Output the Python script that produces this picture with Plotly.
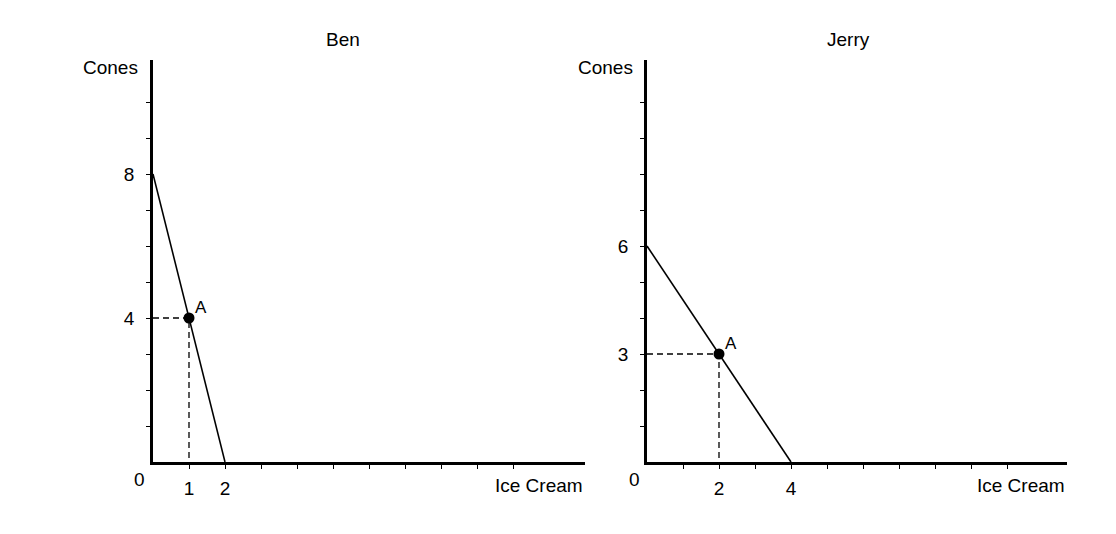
import plotly.graph_objects as go

# Data
ben_ppf_x = [0, 2]
ben_ppf_y = [8, 0]
ben_point = (1, 4)
ben_xticks = [1, 2]
ben_yticks = [4, 8]

jerry_ppf_x = [0, 4]
jerry_ppf_y = [6, 0]
jerry_point = (2, 3)
jerry_xticks = [2, 4]
jerry_yticks = [3, 6]

tick_positions = list(range(1, 11))
titles = ["Ben", "Jerry"]
x_label = "Ice Cream"
y_label = "Cones"
point_label = "A"

FONT = "Liberation Sans, Arial, sans-serif"
FS = 19
W, H = 1116, 534

fig = go.Figure()

panels = [
    dict(xa="x", ya="y", ppfx=ben_ppf_x, ppfy=ben_ppf_y, pt=ben_point,
         xt=ben_xticks, yt=ben_yticks, dom=[153 / W, 585 / W], xmax=12.0),
    dict(xa="x2", ya="y2", ppfx=jerry_ppf_x, ppfy=jerry_ppf_y, pt=jerry_point,
         xt=jerry_xticks, yt=jerry_yticks, dom=[647 / W, 1067 / W], xmax=420 / 36),
]

ydom = [1 - 462 / H, 1 - 60 / H]
ymax = 402 / 36

for i, p in enumerate(panels):
    px, py = p["pt"]
    # dashed guides
    fig.add_trace(go.Scatter(x=[0, px, px], y=[py, py, 0], mode="lines",
                             line=dict(color="black", width=1.3, dash="6px,4px"),
                             xaxis=p["xa"], yaxis=p["ya"], showlegend=False,
                             hoverinfo="skip"))
    # PPF line
    fig.add_trace(go.Scatter(x=p["ppfx"], y=p["ppfy"], mode="lines",
                             line=dict(color="black", width=1.6),
                             xaxis=p["xa"], yaxis=p["ya"], showlegend=False))
    # point A
    fig.add_trace(go.Scatter(x=[px], y=[py], mode="markers",
                             marker=dict(color="black", size=11),
                             xaxis=p["xa"], yaxis=p["ya"], showlegend=False,
                             cliponaxis=False))
    fig.add_annotation(x=px, y=py, xref=p["xa"], yref=p["ya"], text=point_label,
                       showarrow=False, xshift=12, yshift=11,
                       font=dict(family=FONT, size=FS - 2, color="black"))

    xtext = [str(v) if v in p["xt"] else "" for v in tick_positions]
    ytext = [str(v) if v in p["yt"] else "" for v in tick_positions]
    suffix = "" if i == 0 else "2"
    fig.update_layout(**{
        "xaxis" + suffix: dict(domain=p["dom"], range=[0, p["xmax"]],
                               anchor=p["ya"], showgrid=False, zeroline=False,
                               showline=True, linecolor="black", linewidth=2.5,
                               ticks="outside", ticklen=4, tickwidth=1, tickcolor="black",
                               tickvals=tick_positions, ticktext=xtext,
                               ticklabelstandoff=3,
                               tickfont=dict(family=FONT, size=FS, color="black"),
                               fixedrange=True),
        "yaxis" + suffix: dict(domain=ydom, range=[0, ymax],
                               anchor=p["xa"], showgrid=False, zeroline=False,
                               showline=True, linecolor="black", linewidth=2.5,
                               ticks="outside", ticklen=4, tickwidth=1, tickcolor="black",
                               tickvals=tick_positions, ticktext=ytext,
                               ticklabelstandoff=8,
                               tickfont=dict(family=FONT, size=FS, color="black"),
                               fixedrange=True),
    })

# Text annotations in paper coords
def px2paper(x, y):
    return x / W, 1 - y / H

texts = [
    (titles[0], 343, 40, "center"),
    (titles[1], 848, 40, "center"),
    (y_label, 110, 68, "center"),
    (y_label, 605, 68, "center"),
    (x_label, 585, 485, "right"),
    (x_label, 1067, 485, "right"),
    ("0", 139, 479, "center"),
    ("0", 634, 479, "center"),
]
for t, x, y, al in texts:
    xx, yy = px2paper(x, y)
    fig.add_annotation(x=xx, y=yy, xref="paper", yref="paper", text=t,
                       showarrow=False, xanchor=al, yanchor="middle",
                       font=dict(family=FONT, size=FS, color="black"))

fig.update_layout(width=W, height=H, margin=dict(l=0, r=0, t=0, b=0),
                  plot_bgcolor="white", paper_bgcolor="white",
                  showlegend=False, hovermode=False)

fig.write_html("out.html", config={"displayModeBar": False},
               post_script="document.body.style.margin='0';")
